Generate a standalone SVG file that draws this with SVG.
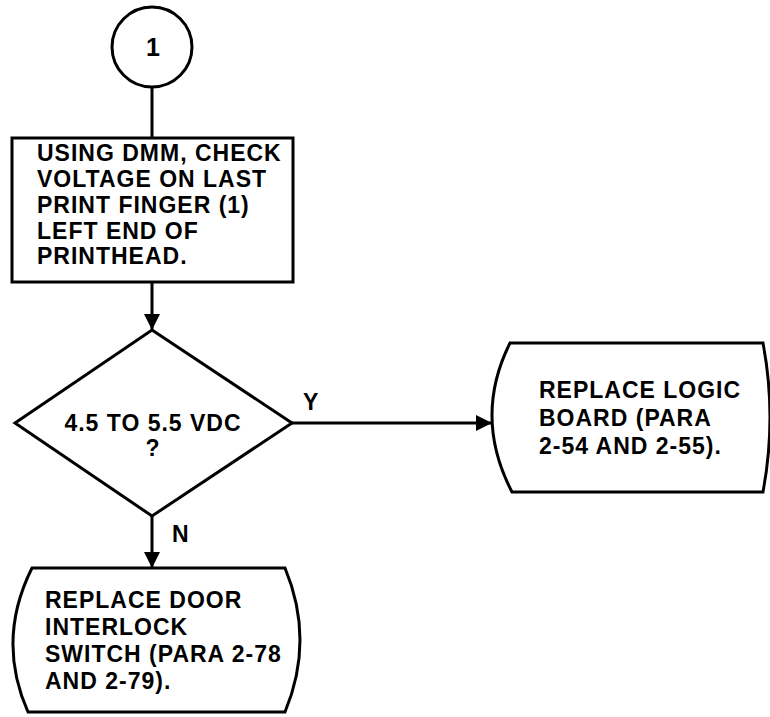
<svg xmlns="http://www.w3.org/2000/svg" width="770" height="717" viewBox="0 0 770 717">
<defs>
<style>
.s{fill:none;stroke:#000;stroke-width:3}
.n{fill:#fff;stroke:#000;stroke-width:3}
.t{font-family:"Liberation Sans",Arial,sans-serif;font-weight:bold;font-size:23px;letter-spacing:1px;fill:#000}
.c{text-anchor:middle}
</style>
<marker id="ah" viewBox="0 0 10 10" refX="10" refY="5" markerWidth="5.5" markerHeight="5.5" markerUnits="strokeWidth" orient="auto">
<path d="M0,0 L10,5 L0,10 Z" fill="#000"/>
</marker>
</defs>
<rect width="770" height="717" fill="#fff"/>
<g id="connectors">
<line class="s" x1="152" y1="87" x2="152" y2="138"/>
<line class="s" x1="152" y1="282" x2="152" y2="330" marker-end="url(#ah)"/>
<line class="s" x1="292" y1="423" x2="492" y2="423" marker-end="url(#ah)"/>
<line class="s" x1="152" y1="516" x2="152" y2="568" marker-end="url(#ah)"/>
<text class="t" x="303" y="410">Y</text>
<text class="t" x="172" y="542">N</text>
</g>
<g id="start">
<circle class="n" cx="152" cy="47" r="40"/>
<text class="t c" x="153" y="56" style="letter-spacing:0;font-size:25px">1</text>
</g>
<g id="check">
<rect class="n" x="12" y="138" width="281" height="144"/>
<text class="t" x="37" y="161">USING DMM, CHECK</text>
<text class="t" x="37" y="187">VOLTAGE ON LAST</text>
<text class="t" x="37" y="213">PRINT FINGER (1)</text>
<text class="t" x="37" y="239">LEFT END OF</text>
<text class="t" x="37" y="264">PRINTHEAD.</text>
</g>
<g id="decision">
<polygon class="n" points="152,330 292,423 152,516 15,423"/>
<text class="t c" x="153" y="431">4.5 TO 5.5 VDC</text>
<text class="t c" x="153" y="456">?</text>
</g>
<g id="logic">
<path class="n" d="M510,343 L763,343 Q777,417 763,492 L512,492 Q473,417 510,343 Z"/>
<text class="t" x="539" y="398">REPLACE LOGIC</text>
<text class="t" x="539" y="426">BOARD (PARA</text>
<text class="t" x="539" y="454">2-54 AND 2-55).</text>
</g>
<g id="door">
<path class="n" d="M32,568 L285,568 Q315,640 285,712 L28,712 Q-4,640 32,568 Z"/>
<text class="t" x="45" y="608">REPLACE DOOR</text>
<text class="t" x="45" y="635">INTERLOCK</text>
<text class="t" x="45" y="662">SWITCH (PARA 2-78</text>
<text class="t" x="45" y="689">AND 2-79).</text>
</g>
</svg>
